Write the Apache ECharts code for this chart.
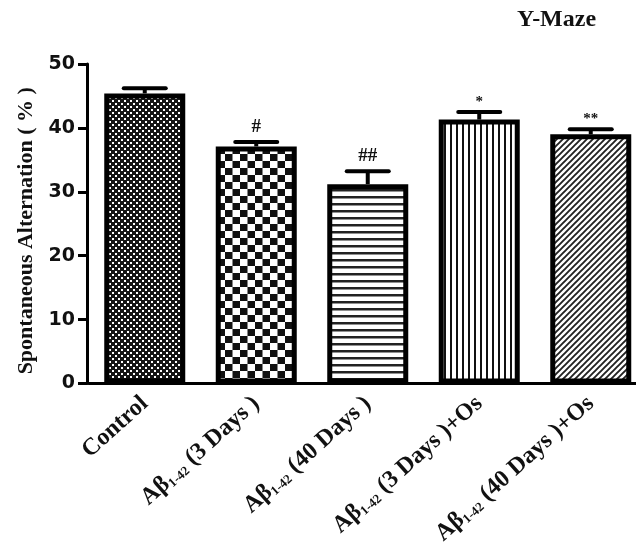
<!DOCTYPE html>
<html><head><meta charset="utf-8">
<script src="https://cdn.jsdelivr.net/npm/echarts@6/dist/echarts.min.js"></script>
<style>html,body{margin:0;padding:0;background:#fff}#c{width:636px;height:556px}</style>
</head><body><div id="c"></div>
<script>
const categories = ['Control', 'Aβ{sub|1-42} (3 Days )', 'Aβ{sub|1-42} (40 Days )', 'Aβ{sub|1-42} (3 Days )+Os', 'Aβ{sub|1-42} (40 Days )+Os'];
const means = [45.4, 37.1, 31.2, 41.3, 39.0];
const errors = [0.8, 0.7, 2.0, 1.2, 0.8];
const marks = ['', '#', '##', '*', '**'];
const yTicks = [0, 10, 20, 30, 40, 50];

function tile(w, h, draw) {
  const c = document.createElement('canvas');
  c.width = w; c.height = h;
  const ctx = c.getContext('2d');
  ctx.fillStyle = '#fff'; ctx.fillRect(0, 0, w, h);
  draw(ctx, w, h);
  return { image: c, repeat: 'repeat' };
}
const patterns = [
  tile(6, 6, (x) => { x.fillStyle = '#151515'; x.fillRect(0,0,6,6); x.fillStyle = '#fff'; x.fillRect(1,1,2,2); x.fillRect(4,4,2,2); }),
  tile(15, 14, (x) => { x.fillStyle = '#111'; x.fillRect(0,0,7.5,7); x.fillRect(7.5,7,7.5,7); }),
  tile(8, 7, (x) => { x.fillStyle = '#222'; x.fillRect(0,0,8,2.5); }),
  tile(6, 8, (x) => { x.fillStyle = '#111'; x.fillRect(0,0,2,8); }),
  tile(6, 6, (x) => { x.strokeStyle = '#222'; x.lineWidth = 1.9; x.beginPath();
    x.moveTo(-1,7); x.lineTo(7,-1); x.moveTo(-4,4); x.lineTo(4,-4); x.moveTo(2,10); x.lineTo(10,2); x.stroke(); })
];

const chart = echarts.init(document.getElementById('c'), null, { renderer: 'canvas' });
const serif = 'Liberation Serif, Times New Roman, serif';
chart.setOption({
  animation: false,
  title: { text: 'Y-Maze', left: 512, top: 3, textStyle: { fontFamily: serif, fontWeight: 'bold', fontSize: 24, color: '#111' } },
  grid: { left: 89, top: 64, width: 557.5, bottom: 172.5, outerBoundsMode: 'none', containLabel: false },
  xAxis: {
    type: 'category', data: categories,
    axisLine: { lineStyle: { color: '#000', width: 3 } },
    axisTick: { alignWithLabel: true, length: 9, lineStyle: { color: '#000', width: 3 } },
    axisLabel: {
      rotate: 42, margin: 17, interval: 0, color: '#111',
      fontFamily: serif, fontWeight: 'bold', fontSize: 24,
      rich: { sub: { fontFamily: serif, fontWeight: 'bold', fontSize: 13, verticalAlign: 'bottom', color: '#111' } }
    }
  },
  yAxis: {
    type: 'value', min: 0, max: 50, interval: 10, offset: 2,
    name: 'Spontaneous Alternation ( % )', nameLocation: 'middle', nameGap: 50,
    nameTextStyle: { fontFamily: serif, fontWeight: 'bold', fontSize: 22, color: '#111', padding: [0, 0, 0, -14] },
    axisLine: { show: true, lineStyle: { color: '#000', width: 3 } },
    axisTick: { show: true, length: 9, lineStyle: { color: '#000', width: 3 } },
    axisLabel: { margin: 12, color: '#111', fontFamily: 'DejaVu Sans', fontWeight: 'bold', fontSize: 19,
      formatter: (v) => yTicks.includes(v) ? String(v) : '' },
    splitLine: { show: false }
  },
  series: [
    {
      type: 'bar', barWidth: 81,
      data: means.map((v, i) => ({ value: v, itemStyle: { color: patterns[i] } })),
      itemStyle: { borderColor: '#000', borderWidth: 5 }
    },
    {
      type: 'custom', z: 5,
      data: means.map((v, i) => [i, v, v + errors[i]]),
      renderItem: (params, api) => {
        const i = api.value(0);
        const base = api.coord([i, api.value(1)]);
        const top = api.coord([i, api.value(2)]);
        const m = marks[i];
        const isStar = m.indexOf('*') >= 0;
        return {
          type: 'group',
          children: [
            { type: 'line', shape: { x1: base[0], y1: base[1], x2: top[0], y2: top[1] }, style: { stroke: '#000', lineWidth: 4 } },
            { type: 'line', shape: { x1: top[0] - 21, y1: top[1], x2: top[0] + 21, y2: top[1] }, style: { stroke: '#000', lineWidth: 4, lineCap: 'round' } },
            { type: 'text', x: top[0], y: top[1] - (isStar ? 10 : 15), style: {
              text: m, align: 'center', verticalAlign: 'middle', fill: '#111',
              font: 'bold ' + (isStar ? 15 : 19) + 'px ' + serif } }
          ]
        };
      }
    }
  ]
});
</script></body></html>
